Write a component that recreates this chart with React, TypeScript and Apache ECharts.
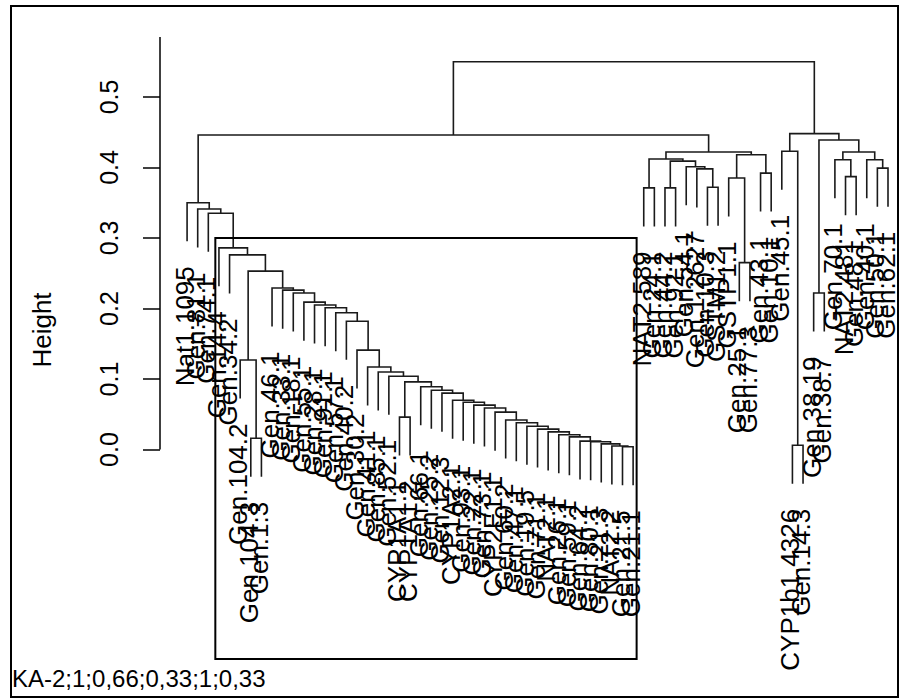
import React, { useEffect, useRef } from 'react';
import * as echarts from 'echarts';

// Leaf labels, in plotted order (left to right)
const leafLabels: string[] = [
  'Nat1.1095', 'Gen.81.1', 'Gen.74.1', 'Gen.14.4', 'Gen.34.2', 'Gen.104.2', 'Gen.104.3', 'Gen.1.3',
  'Gen.46.1', 'Gen.33.1', 'Gen.18.1', 'Gen.55.1', 'Gen.28.1', 'Gen.91.1', 'Gen.57.1', 'Gen.40.2',
  'Gen.30.2', 'Gen.41.1', 'Gen.85.1', 'Gen.52.1', 'CYP1A1.1', 'CYP1A1.2', 'Gen.66.1', 'Gen.25.2',
  'Gen.12.3', 'CYP1A2.1', 'Gen.93.1', 'Gen.22.1', 'Gen.73.1', 'CYP2E1.1', 'Gen.60.2', 'Gen.47.1',
  'Gen.19.5', 'Gen.71.1', 'NAT2.1', 'Gen.26.1', 'Gen.59.1', 'Gen.64.2', 'Gen.80.1', 'Gen.21.3',
  'NAT2.2', 'Gen.21.5', 'Gen.21.1', 'NAT2.589', 'Gen.24.1', 'Gen.44.2', 'Gen.92.1', 'Gen.54.1',
  'Gen.1.2627', 'Gen.10.3', 'GSTM1.2', 'GSTP1.1', 'Gen.25.1', 'Gen.77.3', 'Gen.43.1', 'Gen.10.1',
  'Gen.45.1', 'CYP1b1.4326', 'Gen.14.3', 'Gen.38.19', 'Gen.38.7', 'Gen.70.1', 'NAT2.481', 'Gen.48.1',
  'Gen.40.1', 'Gen.50.1', 'Gen.62.1',
];

// hclust-style merge table: negative = leaf (-(index+1)), positive = earlier merge (1-based)
const mergeA: number[] = [
  -42, -41, -40, -39, -38, -37, -36, -35, -34, -33,
  -32, -31, -30, -29, -28, -27, -26, -25, -24, -23,
  -21, 21, -20, -19, -18, -17, -16, -15, -14, -13,
  -12, -11, -10, -9, -7, -6, 36, -5, -4, -3,
  -2, -1, -44, -46, -50, -49, -48, 44, 43, -53,
  -52, -55, 51, 49, 42, -58, -57, -60, -63, -62,
  -66, -65, 60, 58, 57, 55,
];
const mergeB: number[] = [
  -43, 1, 2, 3, 4, 5, 6, 7, 8, 9,
  10, 11, 12, 13, 14, 15, 16, 17, 18, 19,
  -22, 20, 22, 23, 24, 25, 26, 27, 28, 29,
  30, 31, 32, 33, -8, 35, 34, 37, 38, 39,
  40, 41, -45, -47, -51, 45, 46, 47, 48, -54,
  50, -56, 52, 53, 54, -59, 56, -61, -64, 59,
  -67, 61, 62, 63, 64, 65,
];
const mergeHeight: number[] = [
  0.004, 0.005, 0.008, 0.011, 0.012, 0.018, 0.021, 0.025, 0.029, 0.033,
  0.038, 0.042, 0.053, 0.059, 0.063, 0.067, 0.070, 0.080, 0.084, 0.089,
  0.046, 0.096, 0.104, 0.110, 0.117, 0.141, 0.182, 0.194, 0.201, 0.205,
  0.209, 0.222, 0.226, 0.229, 0.016, 0.127, 0.253, 0.276, 0.286, 0.335,
  0.341, 0.350, 0.371, 0.371, 0.372, 0.398, 0.401, 0.409, 0.412, 0.265,
  0.385, 0.392, 0.418, 0.422, 0.446, 0.006, 0.423, 0.222, 0.387, 0.411,
  0.399, 0.411, 0.422, 0.439, 0.448, 0.550,
];

const yTicks: number[] = [0, 0.1, 0.2, 0.3, 0.4, 0.5];
const clusterFirstLeaf = 3;
const clusterLastLeaf = 42;
const clusterCutHeight = 0.30;
const yLabel = 'Height';
const subTitle = 'KA-2;1;0,66;0,33;1;0,33';

const Y_MIN = -0.297;
const Y_MAX = 0.585;
const X_MIN = -2.55;
const FONT = "'Liberation Sans', Arial, Helvetica, sans-serif";

function buildTree() {
  const nodeX: number[] = [];
  const cx = (c: number) => (c < 0 ? -c - 1 : nodeX[c - 1]);
  for (let k = 0; k < mergeA.length; k++) {
    nodeX[k] = (cx(mergeA[k]) + cx(mergeB[k])) / 2;
  }
  const hMax = Math.max(...mergeHeight);
  const hMin = Math.min(...mergeHeight);
  const hang = 0.1 * (hMax - hMin);
  const leafEnd: number[] = new Array(leafLabels.length).fill(0);
  const segs: number[][] = [];
  for (let k = 0; k < mergeA.length; k++) {
    const a = mergeA[k], b = mergeB[k], h = mergeHeight[k];
    const ba = a < 0 ? h - hang : mergeHeight[a - 1];
    const bb = b < 0 ? h - hang : mergeHeight[b - 1];
    if (a < 0) leafEnd[-a - 1] = h - hang;
    if (b < 0) leafEnd[-b - 1] = h - hang;
    segs.push([cx(a), cx(b), h, ba, bb]);
  }
  return { segs, leafEnd };
}

export default function App() {
  const ref = useRef<HTMLDivElement>(null);
  useEffect(() => {
    if (!ref.current) return;
    const chart = echarts.init(ref.current, null, { renderer: 'svg' });
    const { segs, leafEnd } = buildTree();
    const n = leafLabels.length;
    const lineColor = '#1a1a1a';

    const option: any = {
      animation: false,
      backgroundColor: '#ffffff',
      grid: { left: 160, right: 20, top: 37, bottom: 39 },
      xAxis: { type: 'value', min: X_MIN, max: n - 1, show: false },
      yAxis: {
        type: 'value',
        min: Y_MIN,
        max: Y_MAX,
        axisLine: { show: false, onZero: false },
        splitLine: { show: false },
        axisTick: { show: true, length: 17, customValues: yTicks, lineStyle: { color: '#000', width: 1.5 } },
        axisLabel: {
          customValues: yTicks,
          rotate: 90,
          margin: 39,
          fontSize: 25,
          color: '#000',
          fontFamily: FONT,
          formatter: (v: number) => v.toFixed(1),
        },
      },
      graphic: [
        { type: 'rect', shape: { x: 11, y: 6, width: 887, height: 691 }, style: { fill: 'none', stroke: '#000', lineWidth: 2 }, silent: true },
        {
          type: 'text', x: 42, y: 330, rotation: Math.PI / 2,
          style: { text: yLabel, fontSize: 26, fontFamily: FONT, fill: '#000', align: 'center', verticalAlign: 'middle' },
        },
        {
          type: 'text', x: 12, y: 678,
          style: { text: subTitle, fontSize: 24, fontFamily: FONT, fill: '#000', align: 'left', verticalAlign: 'middle' },
        },
      ],
      series: [
        {
          type: 'custom',
          name: 'axisline',
          data: [[X_MIN, 0, Y_MAX]],
          encode: { x: 0, y: [1, 2] },
          renderItem: (params: any, api: any) => {
            const p0 = api.coord([api.value(0), api.value(1)]);
            const p1 = api.coord([api.value(0), api.value(2)]);
            return { type: 'line', shape: { x1: p0[0], y1: p0[1], x2: p1[0], y2: p1[1] }, style: { stroke: '#000', lineWidth: 1.5 } };
          },
        },
        {
          type: 'custom',
          name: 'tree',
          data: segs,
          encode: { x: [0, 1], y: [2, 3, 4] },
          renderItem: (params: any, api: any) => {
            const xa = api.value(0), xb = api.value(1), h = api.value(2), ba = api.value(3), bb = api.value(4);
            const pts = [api.coord([xa, ba]), api.coord([xa, h]), api.coord([xb, h]), api.coord([xb, bb])];
            return { type: 'polyline', shape: { points: pts }, style: { stroke: lineColor, lineWidth: 1.6, fill: null } };
          },
        },
        {
          type: 'custom',
          name: 'labels',
          data: leafLabels.map((_, i) => [i, leafEnd[i]]),
          encode: { x: 0, y: 1 },
          renderItem: (params: any, api: any) => {
            const p = api.coord([api.value(0), api.value(1)]);
            return {
              type: 'text', x: p[0] - 2, y: p[1] + 25, rotation: Math.PI / 2,
              style: { text: leafLabels[params.dataIndex], fontSize: 26, fontFamily: FONT, fill: '#000', align: 'right', verticalAlign: 'middle' },
            };
          },
        },
        {
          type: 'custom',
          name: 'cluster',
          data: [[clusterFirstLeaf - 0.34, clusterLastLeaf + 0.33, Y_MIN, clusterCutHeight]],
          encode: { x: [0, 1], y: [2, 3] },
          renderItem: (params: any, api: any) => {
            const p0 = api.coord([api.value(0), api.value(3)]);
            const p1 = api.coord([api.value(1), api.value(2)]);
            return { type: 'rect', shape: { x: p0[0], y: p0[1], width: p1[0] - p0[0], height: p1[1] - p0[1] }, style: { fill: 'none', stroke: '#000', lineWidth: 2 } };
          },
        },
      ],
    };
    chart.setOption(option);
    return () => chart.dispose();
  }, []);
  return <div ref={ref} style={{ position: 'absolute', left: 0, top: 0, width: 908, height: 698 }} />;
}
